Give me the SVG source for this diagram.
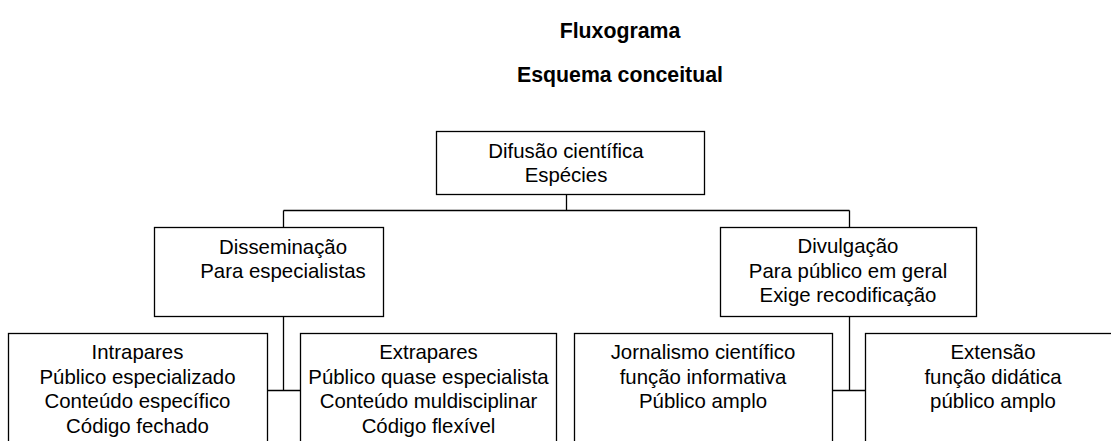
<svg xmlns="http://www.w3.org/2000/svg" width="1111" height="441" viewBox="0 0 1111 441">
<style>
.box{fill:#fff;stroke:#000;stroke-width:1.3}
.t{font-family:"Liberation Sans",Arial,sans-serif;font-size:20.4px;fill:#000;text-anchor:middle}
.title{font-family:"Liberation Sans",Arial,sans-serif;font-size:21.3px;font-weight:bold;fill:#000;text-anchor:middle}
.c{fill:none;stroke:#000;stroke-width:1.3}
</style>
<rect width="1111" height="441" fill="#fff"/>
<text class="title" x="620" y="38">Fluxograma</text>
<text class="title" x="620" y="82">Esquema conceitual</text>
<g id="connectors">
<path class="c" d="M566.5 194.5V210.5M283.5 210.5H849.5M283.5 210.5V227.5M849.5 210.5V227.5"/>
<path class="c" d="M283.5 316.5V390.5M267.5 390.5H300.5"/>
<path class="c" d="M849.5 316.5V390.5M832.5 390.5H865.5"/>
</g>
<g id="difusao">
<rect class="box" x="436.5" y="131.5" width="268" height="63"/>
<text class="t" x="566" y="158">Difusão científica</text>
<text class="t" x="566" y="182">Espécies</text>
</g>
<g id="disseminacao">
<rect class="box" x="154.5" y="227.5" width="229" height="89"/>
<text class="t" x="283" y="254">Disseminação</text>
<text class="t" x="283" y="278">Para especialistas</text>
</g>
<g id="divulgacao">
<rect class="box" x="720.5" y="227.5" width="256" height="89"/>
<text class="t" x="848" y="253">Divulgação</text>
<text class="t" x="848" y="277.5">Para público em geral</text>
<text class="t" x="848" y="302">Exige recodificação</text>
</g>
<g id="intrapares">
<rect class="box" x="8.5" y="333.5" width="259" height="130"/>
<text class="t" x="137.5" y="359">Intrapares</text>
<text class="t" x="137.5" y="383.5">Público especializado</text>
<text class="t" x="137.5" y="408">Conteúdo específico</text>
<text class="t" x="137.5" y="432.5">Código fechado</text>
</g>
<g id="extrapares">
<rect class="box" x="300.5" y="333.5" width="256" height="130"/>
<text class="t" x="428.5" y="359">Extrapares</text>
<text class="t" x="428.5" y="383.5">Público quase especialista</text>
<text class="t" x="428.5" y="408">Conteúdo muldisciplinar</text>
<text class="t" x="428.5" y="432.5">Código flexível</text>
</g>
<g id="jornalismo">
<rect class="box" x="574.5" y="333.5" width="258" height="130"/>
<text class="t" x="703" y="359">Jornalismo científico</text>
<text class="t" x="703" y="383.5">função informativa</text>
<text class="t" x="703" y="408">Público amplo</text>
</g>
<g id="extensao">
<rect class="box" x="865.5" y="333.5" width="257" height="130"/>
<text class="t" x="993" y="359">Extensão</text>
<text class="t" x="993" y="383.5">função didática</text>
<text class="t" x="993" y="408">público amplo</text>
</g>
</svg>
